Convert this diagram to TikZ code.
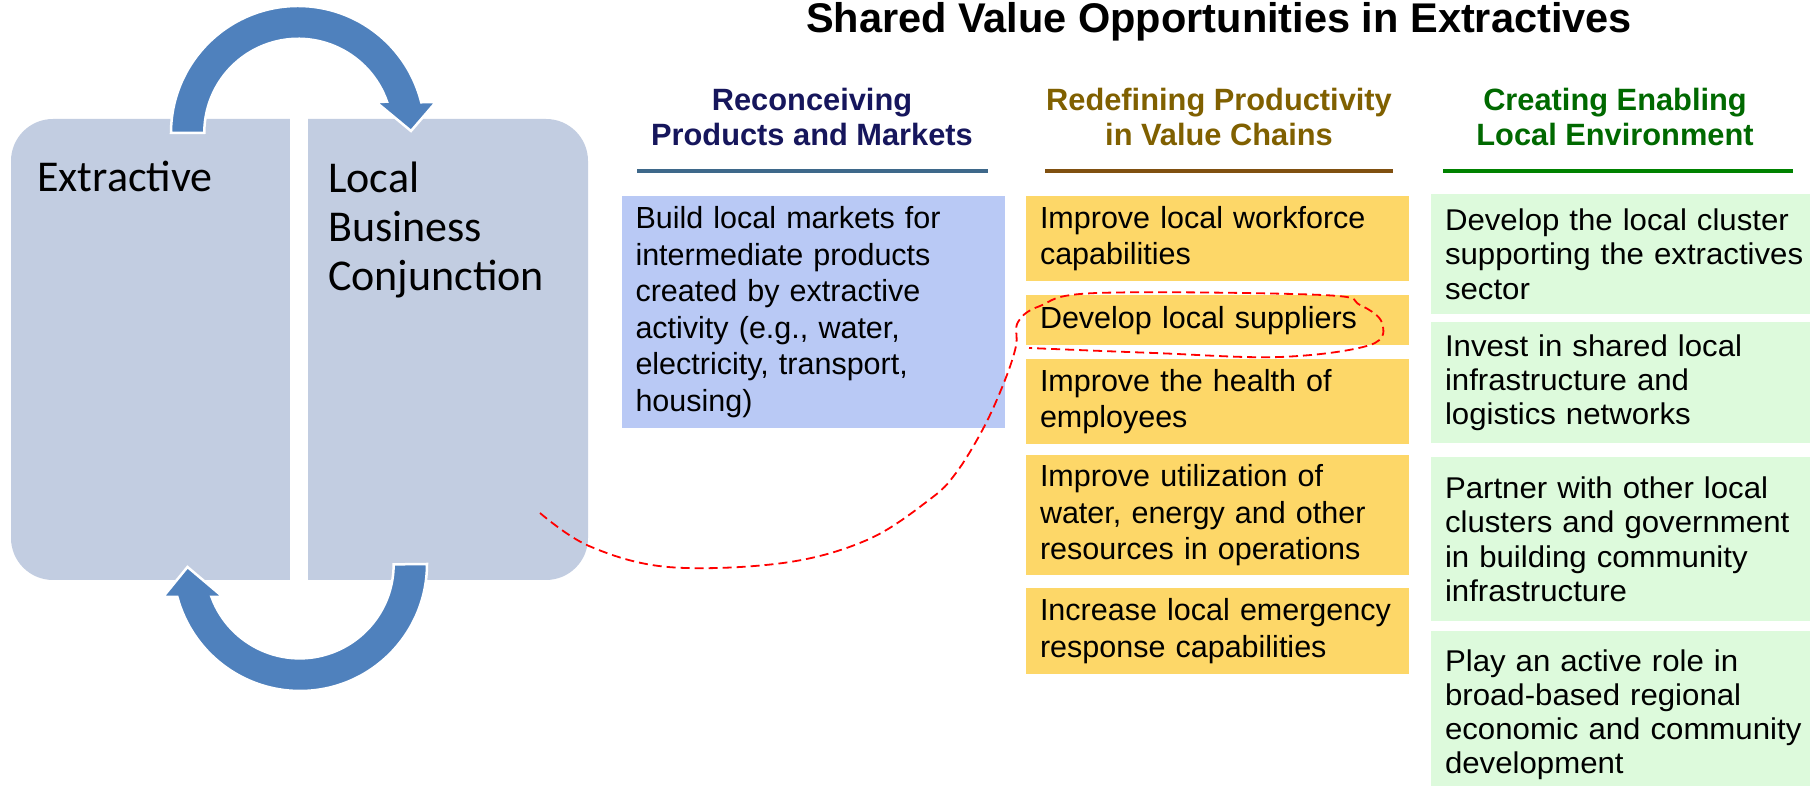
\documentclass[tikz,border=0pt]{standalone}
\usepackage{fontspec}
\setmainfont{Liberation Sans}
\newfontfamily\calfont{Carlito}
\newfontfamily\widefont[FakeStretch=1.04]{Liberation Sans}
\usetikzlibrary{positioning}
\definecolor{panel}{RGB}{194,205,225}
\definecolor{loopblue}{RGB}{79,129,189}
\definecolor{markets}{RGB}{185,201,245}
\definecolor{chains}{RGB}{253,215,104}
\definecolor{environ}{RGB}{221,250,220}
\definecolor{navyhead}{RGB}{22,22,92}
\definecolor{brownhead}{RGB}{128,96,0}
\definecolor{greenhead}{RGB}{0,105,0}
\definecolor{navyline}{RGB}{62,104,138}
\definecolor{brownline}{RGB}{128,80,16}
\definecolor{greenline}{RGB}{0,130,0}
\tikzstyle{optbox}=[fill=#1,anchor=north,inner xsep=14pt,inner ysep=0pt,align=left,font=\fontsize{30.5}{36.5}\selectfont]
\tikzstyle{header}=[text=#1,anchor=north,align=center,inner sep=0pt,font=\bfseries\fontsize{30.8}{35}\selectfont]
\newcommand{\opt}[5]{\node[#1,minimum height=#4pt] (#2) at (#3) {#5};}
\tikzset{
	looparrow/.style={fill=loopblue,draw=white,line width=2.5pt},
	dashloop/.style={red,line width=1.8pt,dash pattern=on 9pt off 5pt},
	sidetext/.style={inner sep=0pt,font=\calfont\fontsize{44}{49}\selectfont},
	envbox/.style={optbox=environ,text width=365pt,font=\widefont\fontsize{30}{34.3}\selectfont},
}

\begin{document}
\begin{tikzpicture}[x=1pt,y=1pt]
    \useasboundingbox[fill=white] (0,0) rectangle (1810,786);

    % left panel
    \fill[panel,rounded corners=42pt] (11,206) rectangle (588,667);
    \fill[white] (290,200) rectangle (308,673);
    \node[sidetext,anchor=base west] (extr) at (37,594) {Extractive};
    \node[sidetext,anchor=north west,align=left] (lbc) at (328,624.4) {Local\\Business\\Conjunction};

    \filldraw[looparrow] (171,653) arc[start angle=180,end angle=14,radius=127] -- (436,684) -- (411,655) -- (376,684) -- (387,684.3) arc[start angle=19.3,end angle=180,radius=94] -- cycle;
    \filldraw[looparrow] (427,222) arc[start angle=0,end angle=-165,radius=127] -- (163,189) -- (187.5,219) -- (223,189) -- (211.5,189) arc[start angle=-159.7,end angle=0,radius=94] -- cycle;

    % title and column heads
    \node[anchor=base,inner sep=0pt,font=\bfseries\fontsize{41.5}{48}\selectfont] (title) at (1219,753) {Shared Value Opportunities in Extractives};
    \node[header=navyhead] (hmarkets) at (812,698) {Reconceiving\\Products and Markets};
    \node[header=brownhead] (hchains) at (1219,698) {Redefining Productivity\\in Value Chains};
    \node[header=greenhead] (henv) at (1615,698) {Creating Enabling\\Local Environment};
    \draw[navyline,line width=4pt] (637,615) -- (988,615);
    \draw[brownline,line width=4pt] (1045,615) -- (1393,615);
    \draw[greenline,line width=4pt] (1443,615) -- (1793,615);

    % column 1
    \opt{optbox=markets,text width=355pt}{build}{813,590}{232}{Build local markets for\\intermediate products\\created by extractive\\activity (e.g., water,\\electricity, transport,\\housing)}

    % column 2
    \opt{optbox=chains,text width=355pt}{workforce}{1217.5,590}{85}{Improve local workforce\\capabilities}
    \opt{optbox=chains,text width=355pt}{suppliers}{1217.5,491}{50}{Develop local suppliers}
    \opt{optbox=chains,text width=355pt}{health}{1217.5,427}{85}{Improve the health of\\employees}
    \opt{optbox=chains,text width=355pt}{utilize}{1217.5,331}{120}{Improve utilization of\\water, energy and other\\resources in operations}
    \opt{optbox=chains,text width=355pt}{emergency}{1217.5,198}{86}{Increase local emergency\\response capabilities}

    % column 3
    \opt{envbox}{cluster}{1627.5,592}{120}{Develop the local cluster\\supporting the extractives\\sector}
    \opt{envbox}{infra}{1627.5,464}{121}{Invest in shared local\\infrastructure and\\logistics networks}
    \opt{envbox}{partner}{1627.5,329}{164}{Partner with other local\\clusters and government\\in building community\\infrastructure}
    \opt{envbox}{regional}{1627.5,155}{167}{Play an active role in\\broad-based regional\\economic and community\\development}

    % hand drawn mark
    \coordinate (hook) at (540,273);
    \draw[dashloop] plot[smooth,tension=0.6] coordinates {(hook) (589,240) (668,219) (783,223) (867,246) (929,286) (956,313) (984,359) (1005,406) (1016,440) (1018,464) (1040,480) (1097,493) (1322,491) (1360,481) (1382,463) (1370,441) (1280,429) (1154,433) (1029,438)};
\end{tikzpicture}
\end{document}
